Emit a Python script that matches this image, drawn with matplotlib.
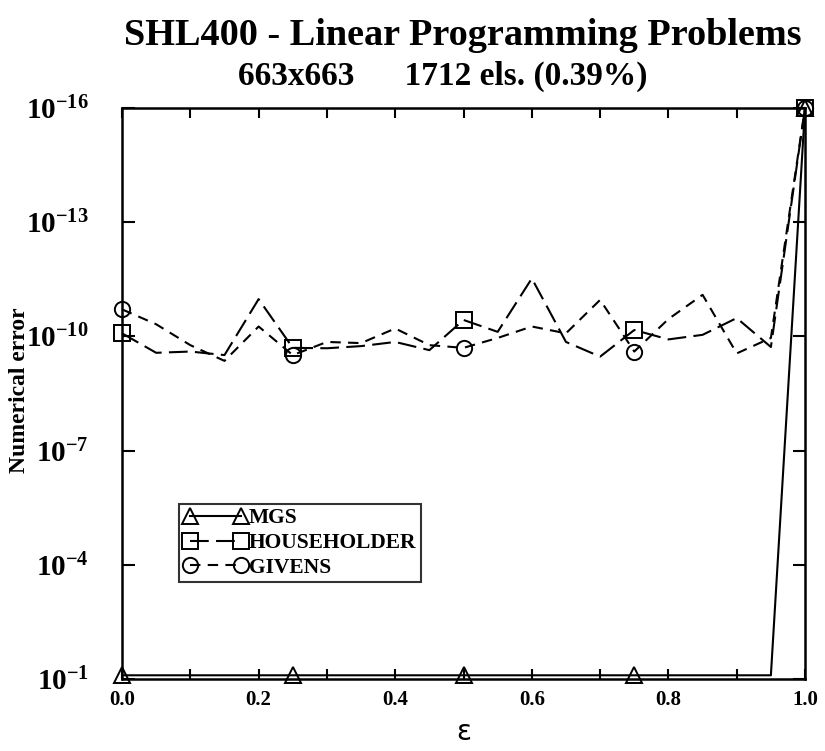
import matplotlib
matplotlib.use("Agg")
import matplotlib.pyplot as plt
from matplotlib.ticker import FixedLocator, FixedFormatter, MultipleLocator

plt.rcParams['font.family'] = ['Liberation Serif', 'DejaVu Serif']
plt.rcParams['font.weight'] = 'bold'
plt.rcParams['mathtext.fontset'] = 'custom'
plt.rcParams['mathtext.rm'] = 'Liberation Serif:bold'
plt.rcParams['mathtext.bf'] = 'Liberation Serif:bold'

# epsilon sweep
eps = [0.00, 0.05, 0.10, 0.15, 0.20, 0.25, 0.30, 0.35, 0.40, 0.45, 0.50,
       0.55, 0.60, 0.65, 0.70, 0.75, 0.80, 0.85, 0.90, 0.95, 1.00]

# numerical error per method
err_mgs = [8e-2] * 20 + [1e-16]
err_householder = [8.3e-11, 2.7e-10, 2.5e-10, 3.1e-10, 1.05e-11, 2.0e-10, 2.05e-10,
                   1.8e-10, 1.4e-10, 2.3e-10, 3.7e-11, 7.6e-11, 3.0e-12, 1.4e-10,
                   3.4e-10, 6.8e-11, 1.2e-10, 9.1e-11, 3.3e-11, 1.9e-10, 1e-16]
err_givens = [1.95e-11, 4.8e-11, 1.7e-10, 4.4e-10, 5.5e-11, 3.1e-10, 1.4e-10,
              1.5e-10, 6.2e-11, 1.7e-10, 2.0e-10, 1.1e-10, 5.5e-11, 8.3e-11,
              1.1e-11, 2.5e-10, 3.5e-11, 8.1e-12, 2.8e-10, 1.1e-10, 1e-16]

ytick_vals = [1e-16, 1e-13, 1e-10, 1e-7, 1e-4, 1e-1]
ytick_labels = [r'$\mathbf{10^{-16}}$', r'$\mathbf{10^{-13}}$', r'$\mathbf{10^{-10}}$',
                r'$\mathbf{10^{-7}}$', r'$\mathbf{10^{-4}}$', r'$\mathbf{10^{-1}}$']

fig = plt.figure(figsize=(8.25, 7.51), dpi=100)
ax = fig.add_axes([0.1479, 0.0959, 0.8279, 0.7603])

mk = dict(markersize=11, markerfacecolor='none', markeredgecolor='k',
          markeredgewidth=1.4, markevery=5, clip_on=False, color='k', lw=1.5)
ax.plot(eps, err_mgs, marker='^', linestyle='-', label='MGS', **mk)
ax.plot(eps, err_householder, marker='s', linestyle=(0, (9, 3.5)), label='HOUSEHOLDER', **mk)
ax.plot(eps, err_givens, marker='o', linestyle=(0, (5, 3.5)), label='GIVENS', **mk)

ax.set_yscale('log')
ax.set_xlim(0, 1)
ax.set_ylim(1e-1, 1e-16)
ax.yaxis.set_major_locator(FixedLocator(ytick_vals))
ax.yaxis.set_major_formatter(FixedFormatter(ytick_labels))
ax.yaxis.set_minor_locator(FixedLocator([]))
ax.xaxis.set_major_locator(MultipleLocator(0.2))
ax.xaxis.set_minor_locator(MultipleLocator(0.1))
ax.xaxis.set_major_formatter(plt.FuncFormatter(lambda v, p: f"{v:.1f}"))

ax.tick_params(axis='both', which='both', direction='in', top=True, right=True,
               width=1.5, color='k')
ax.tick_params(axis='x', which='both', length=7, pad=8, labelsize=15)
ax.tick_params(axis='y', which='major', length=9, pad=24, labelsize=21)
for s in ax.spines.values():
    s.set_linewidth(1.8)

ax.set_ylabel('Numerical error', fontsize=17, fontweight='bold')
ax.yaxis.set_label_coords(-0.134, 0.506)
ax.set_xlabel('ε', fontsize=20, family='DejaVu Sans', fontweight='normal', labelpad=6)

fig.text(0.561, 0.953, 'SHL400 - Linear Programming Problems', ha='center', va='center',
         fontsize=27.5, fontweight='bold')
fig.text(0.537, 0.898, '663x663      1712 els. (0.39%)', ha='center', va='center',
         fontsize=24, fontweight='bold')

leg = ax.legend(loc='upper left', bbox_to_anchor=(0.0835, 0.3065), numpoints=2,
                handlelength=3.0, handletextpad=0.05, labelspacing=0.22,
                borderpad=0.2, borderaxespad=0, fancybox=False,
                prop={'size': 15.5, 'weight': 'bold'})
leg.get_frame().set_edgecolor('k')
leg.get_frame().set_linewidth(1.5)

fig.savefig('out.png', dpi=100)
